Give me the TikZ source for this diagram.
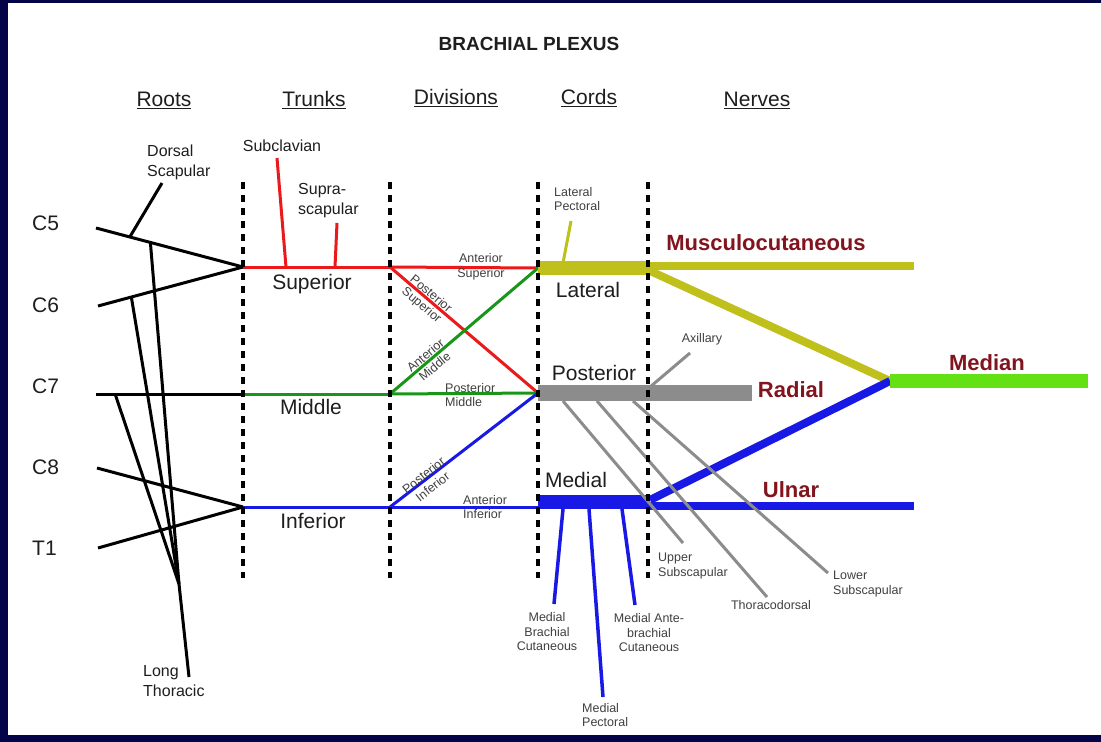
\documentclass[tikz,border=0pt]{standalone}
\usepackage{fontspec}
\setmainfont{Liberation Sans}
\usetikzlibrary{calc}
\definecolor{navy}{RGB}{4,4,72}
\definecolor{txt}{RGB}{30,30,30}
\definecolor{nred}{RGB}{235,25,25}
\definecolor{ngreen}{RGB}{25,150,25}
\definecolor{nblue}{RGB}{25,25,230}
\definecolor{olive}{RGB}{192,192,28}
\definecolor{ngrey}{RGB}{140,140,140}
\definecolor{bgreen}{RGB}{100,225,20}
\definecolor{nervecol}{RGB}{130,20,30}
\tikzset{
  big/.style={font=\fontsize{21}{24}\selectfont, text=txt, inner sep=0pt},
  hdr/.style={font=\fontsize{21}{24}\selectfont, text=txt, inner sep=0pt},
  lbl/.style={font=\fontsize{16}{20}\selectfont, text=txt, inner sep=0pt},
  tiny/.style={font=\fontsize{12.5}{14.5}\selectfont, text=txt!85, inner sep=0pt},
  nervelbl/.style={font=\fontsize{22}{24}\selectfont\bfseries, text=nervecol, inner sep=0pt},
  ttl/.style={font=\fontsize{19}{21}\selectfont\bfseries, text=txt, inner sep=0pt},
  rootline/.style={line width=3pt, black},
  thinline/.style={line width=3pt},
  vdash/.style={line width=3.5pt, black, dash pattern=on 7pt off 6pt},
  cordbar/.style={line width=14pt},
  nervebar/.style={line width=8pt},
}
\begin{document}
\begin{tikzpicture}[x=1pt,y=-1pt]
\useasboundingbox (0,0) rectangle (1101,742);
\fill[navy] (0,0) rectangle (1101,742);
\fill[white] (8,3) rectangle (1101,735);

% title and headers
\node[ttl] (title) at (529,44) {BRACHIAL PLEXUS};
\node[hdr] (hroots) at (164,100) {\underline{Roots}};
\node[hdr] (htrunks) at (314,100) {\underline{Trunks}};
\node[hdr] (hdiv) at (456,98) {\underline{Divisions}};
\node[hdr] (hcords) at (589,98) {\underline{Cords}};
\node[hdr] (hnerves) at (757,100) {\underline{Nerves}};

% roots labels
\node[big, anchor=west] (lc5) at (32,223) {C5};
\node[big, anchor=west] (lc6) at (32,305) {C6};
\node[big, anchor=west] (lc7) at (32,386) {C7};
\node[big, anchor=west] (lc8) at (32,467) {C8};
\node[big, anchor=west] (lt1) at (32,548) {T1};

% coordinates
\coordinate (c5s) at (96,228);
\coordinate (c6s) at (98,306);
\coordinate (c7s) at (96,394);
\coordinate (c8s) at (97,468);
\coordinate (t1s) at (98,548);
\coordinate (supT) at (243,267);
\coordinate (midT) at (243,394);
\coordinate (infT) at (243,507);
\coordinate (supD) at (390,267);
\coordinate (midD) at (390,394);
\coordinate (infD) at (390,507);
\coordinate (latL) at (538,268);
\coordinate (latR) at (648,268);
\coordinate (postL) at (538,393);
\coordinate (postR) at (752,393);
\coordinate (medL) at (538,502);
\coordinate (medI) at (538,507);
\coordinate (medR) at (650,502);
\coordinate (medj) at (890,381);
\coordinate (medianE) at (1088,381);
\coordinate (mcE) at (914,266);
\coordinate (mcS) at (648,266);
\coordinate (lmS) at (648,270);
\coordinate (ulS) at (650,506);
\coordinate (ulE) at (914,506);
\coordinate (mmS) at (650,500);

% root lines
\draw[rootline] (c5s) -- (supT);
\draw[rootline] (c6s) -- (supT);
\draw[rootline] (c7s) -- (midT);
\draw[rootline] (c8s) -- (infT);
\draw[rootline] (t1s) -- (infT);

% dorsal scapular
\coordinate (dsj) at ($(c5s)!0.23!(supT)$);
\coordinate (dsE) at (162,183);
\draw[rootline] (dsj) -- (dsE);
\node[lbl, align=left, anchor=west] (lds) at (147,162) {Dorsal\\Scapular};

% long thoracic
\coordinate (lt5) at ($(c5s)!0.37!(supT)$);
\coordinate (lt6) at ($(c6s)!0.23!(supT)$);
\coordinate (lt7) at ($(c7s)!0.13!(midT)$);
\coordinate (ltc) at (179,584);
\coordinate (ltE) at (189,677);
\draw[rootline] (lt5) -- (ltc);
\draw[rootline] (lt6) -- (ltc);
\draw[rootline] (lt7) -- (ltc);
\draw[rootline] (ltc) -- (ltE);
\node[lbl, align=left, anchor=west] (llt) at (143,681) {Long\\Thoracic};

% trunks
\draw[thinline, nred] (supT) -- (supD);
\draw[thinline, ngreen] (midT) -- (midD);
\draw[thinline, nblue] (infT) -- (infD);
\node[big] (lsup) at (312,284) {Superior};
\node[big] (lmid) at (311,407) {Middle};
\node[big] (linf) at (313,521) {Inferior};

% subclavian, suprascapular
\coordinate (scj) at (286,267);
\coordinate (scE) at (277,158);
\draw[thinline, nred] (scj) -- (scE);
\node[lbl] (lsc) at (282,146) {Subclavian};
\coordinate (ssj) at (335,267);
\coordinate (ssE) at (337,223);
\draw[thinline, nred] (ssj) -- (ssE);
\node[lbl, align=left, anchor=west] (lss) at (298,201) {Supra-\\scapular};

% divisions
\draw[thinline, nred] (supD) -- (latL);
\draw[thinline, nred] (supD) -- (postL);
\draw[thinline, ngreen] (midD) -- (latL);
\draw[thinline, ngreen] (midD) -- (postL);
\draw[thinline, nblue] (infD) -- (postL);
\draw[thinline, nblue] (infD) -- (medI);
\node[tiny, align=center] (las) at (481,267) {Anterior\\Superior};
\node[tiny, align=left, anchor=west] (lpm) at (445,395) {Posterior\\Middle};
\node[tiny, align=left, anchor=west] (lai) at (463,507) {Anterior\\Inferior};
\node[tiny, align=center, rotate=-40] (lps) at (426,300) {Posterior\\Superior};
\node[tiny, align=center, rotate=40] (lam) at (430,361) {Anterior\\Middle};
\node[tiny, align=center, rotate=38] (lpi) at (428,481) {Posterior\\Inferior};

% nerves from lateral cord
\draw[nervebar, olive] (mcS) -- (mcE);
\draw[nervebar, olive] (lmS) -- (medj);
% cords
\draw[cordbar, olive] (latL) -- (latR);
\draw[line width=16pt, ngrey] (postL) -- (postR);
% nerves from medial cord
\draw[nervebar, nblue] (ulS) -- (ulE);
\draw[nervebar, nblue] (mmS) -- (medj);
\draw[cordbar, nblue] (medL) -- (medR);
\draw[cordbar, bgreen] (medj) -- (medianE);

% lateral pectoral
\coordinate (lpj) at (563,263);
\coordinate (lpE) at (571,221);
\draw[thinline, olive] (lpj) -- (lpE);
\node[tiny, align=left, anchor=west] (llp) at (554,199) {Lateral\\Pectoral};

% medial branches
\coordinate (mbj) at (563,509);
\coordinate (mbE) at (554,604);
\coordinate (mpj) at (589,509);
\coordinate (mpE) at (603,697);
\coordinate (maj) at (622,509);
\coordinate (maE) at (635,605);
\draw[line width=3.5pt, nblue] (mbj) -- (mbE);
\draw[line width=3.5pt, nblue] (mpj) -- (mpE);
\draw[line width=3.5pt, nblue] (maj) -- (maE);
\node[tiny, align=center] (lmb) at (547,632) {Medial\\Brachial\\Cutaneous};
\node[tiny, align=center] (lma) at (649,633) {Medial Ante-\\brachial\\Cutaneous};
\node[tiny, align=left, anchor=west] (lmp) at (582,715) {Medial\\Pectoral};

% posterior branches
\coordinate (axj) at (650,387);
\coordinate (axE) at (690,353);
\coordinate (usj) at (563,401);
\coordinate (usE) at (683,543);
\coordinate (tdj) at (597,401);
\coordinate (tdE) at (767,597);
\coordinate (lsj) at (633,401);
\coordinate (lsE) at (828,573);
\draw[thinline, ngrey] (axj) -- (axE);
\draw[thinline, ngrey] (usj) -- (usE);
\draw[thinline, ngrey] (tdj) -- (tdE);
\draw[thinline, ngrey] (lsj) -- (lsE);
\node[tiny] (lax) at (702,339) {Axillary};
\node[tiny, align=left, anchor=west] (lus) at (658,566) {Upper\\Subscapular};
\node[tiny] (ltd) at (771,605) {Thoracodorsal};
\node[tiny, align=left, anchor=west] (lls) at (833,584) {Lower\\Subscapular};

% cord labels
\node[big] (llat) at (588,290) {Lateral};
\node[big] (lpost) at (594,373) {Posterior};
\node[big] (lmed) at (576,480) {Medial};

% nerve labels
\node[nervelbl] (lmc) at (766,243) {Musculocutaneous};
\node[nervelbl] (lmedian) at (987,363) {Median};
\node[nervelbl] (lrad) at (791,390) {Radial};
\node[nervelbl] (luln) at (791,490) {Ulnar};

% dashed separators
\foreach \x/\n in {243/a,390/b,538/c,648/d}{
  \coordinate (vt\n) at (\x,182);
  \coordinate (vb\n) at (\x,578);
  \draw[vdash] (vt\n) -- (vb\n);
}
\end{tikzpicture}
\end{document}
